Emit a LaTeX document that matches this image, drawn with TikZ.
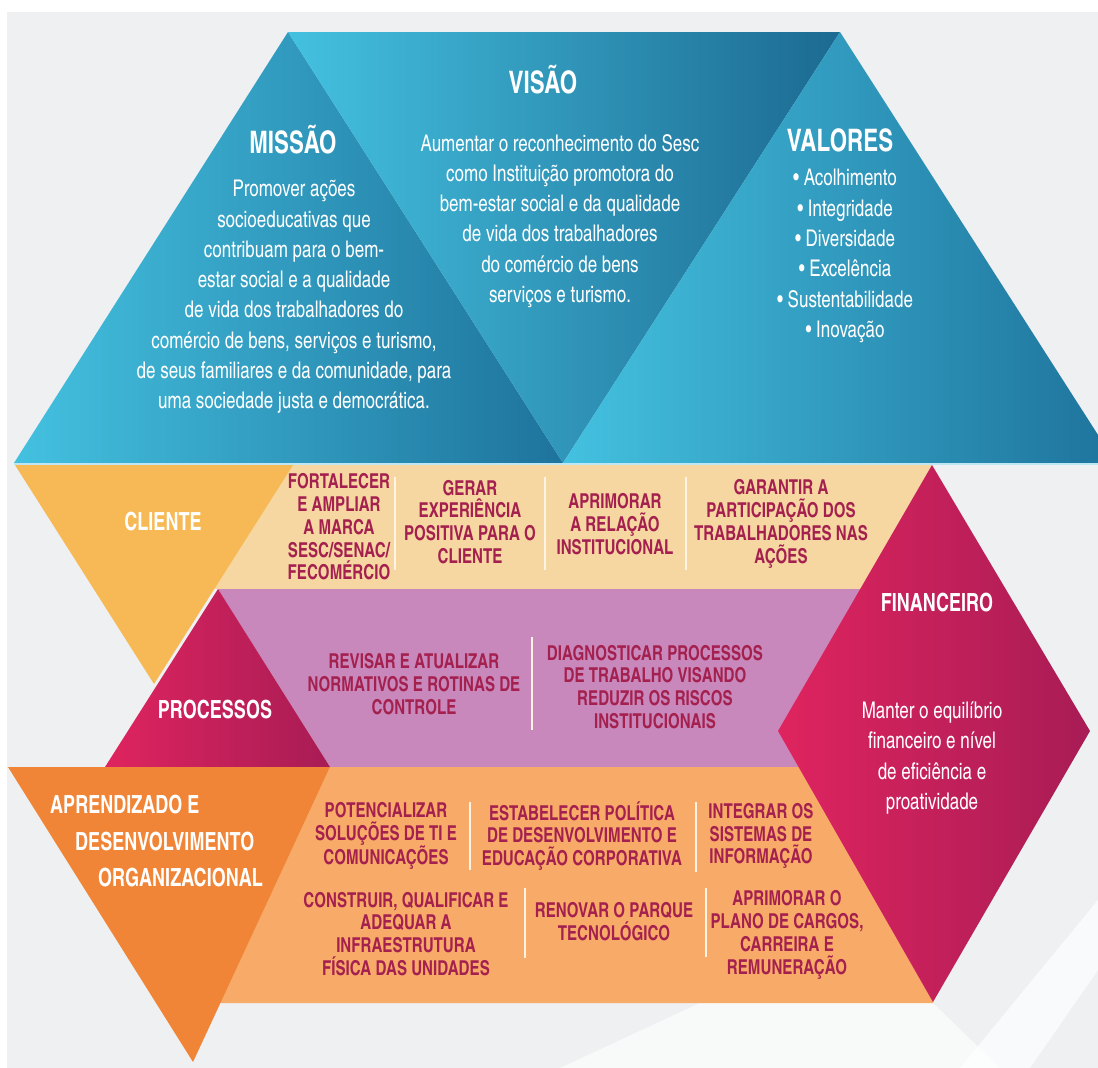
\documentclass[tikz,border=0pt]{standalone}
\usepackage{fontspec}
\usepackage{tikz}
\newfontfamily\cnfont{texgyreheroscn}[Extension=.otf, UprightFont=*-regular, BoldFont=*-bold, FakeStretch=0.9]
\newfontfamily\cntitle{texgyreheroscn}[Extension=.otf, UprightFont=*-bold, FakeStretch=0.88]
\definecolor{bggray}{HTML}{EEF0F2}
\definecolor{bluelight}{HTML}{44C1E0}
\definecolor{bluedark}{HTML}{1E739C}
\definecolor{bluedarker}{HTML}{1C6A92}
\definecolor{lightline}{HTML}{BEE7F3}
\definecolor{clienteband}{HTML}{F7D7A1}
\definecolor{clienteorange}{HTML}{F6B955}
\definecolor{processosband}{HTML}{C988BB}
\definecolor{aprendband}{HTML}{F8AB68}
\definecolor{aprendorange}{HTML}{F08537}
\definecolor{maglight}{HTML}{DF245F}
\definecolor{magdark}{HTML}{A81C55}
\definecolor{goalred}{HTML}{A4204F}
\definecolor{sepcol}{HTML}{FFF4E4}

\begin{document}
\begin{tikzpicture}[x=1pt,y=-1pt,
	bigtitle/.style={text=white,inner sep=0pt,font=\cntitle\fontsize{31}{31}\selectfont},
	bandtitle/.style={text=white,inner sep=0pt,font=\cntitle\fontsize{25}{37}\selectfont},
	bodytext/.style={text=white,inner sep=0pt,align=center,font=\cnfont\fontsize{23}{30.3}\selectfont},
	goal/.style={text=goalred,inner sep=0pt,align=center,font=\cnfont\bfseries\fontsize{20.5}{22.8}\selectfont},
	sepline/.style={draw=sepcol,line width=2pt}]

	\useasboundingbox (0,0) rectangle (1098,1068);
	\clip (0,0) rectangle (1098,1068);

	%% Background %%
	\fill [white] (0,0) rectangle (1098,1068);
	\fill [bggray] (7,12) rectangle (1098,1068);
	\fill [white,opacity=0.6] (560,1068) -- (700,1003) -- (933,1003) -- (1000,1068) -- cycle;
	\fill [white,opacity=0.7] (960,1068) -- (1098,900) -- (1098,970) -- (1030,1068) -- cycle;

	%% Blue Triangles %%
	\shade [left color=bluelight,right color=bluedark] (14,463) -- (288,32) -- (563,463) -- cycle;
	\shade [left color=bluelight,right color=bluedarker] (288,32) -- (840,32) -- (563,463) -- cycle;
	\shade [left color=bluelight,right color=bluedark] (563,463) -- (840,32) -- (1116,463) -- cycle;
	\draw [lightline,line width=2pt] (14,464) -- (1098,464);

	%% Bands %%
	\fill [clienteband] (200,465) rectangle (932,589);
	\fill [processosband] (218,589) -- (860,589) -- (860,767) -- (330,767) -- cycle;
	\fill [aprendband] (330,767) -- (933,767) -- (933,1003) -- (220,1003) -- cycle;

	%% Perspective Shapes %%
	\fill [clienteorange] (15,465) -- (293,465) -- (154,684) -- cycle;
	\shade [left color=maglight,right color=magdark] (218,589) -- (330,767) -- (105,767) -- cycle;
	\fill [aprendorange] (8,767) -- (330,767) -- (193,1062) -- cycle;
	\shade [left color=maglight,right color=magdark] (932,465) -- (1090,731) -- (933,1002) -- (778,731) -- cycle;

	%% Separators %%
	\foreach \x/\ya/\yb in {395/477/570, 545/477/570, 686/477/570, 532/637/730, 470/802/870, 696/802/872, 525/888/958, 706/888/957}
		\draw [sepline] (\x,\ya) -- (\x,\yb);

	%% Top Texts %%
	\node [bigtitle] (missao) at (293,140) {MISSÃO};
	\node [bodytext] (missaotxt) at (294,297) {Promover ações\\socioeducativas que\\contribuam para o bem-\\estar social e a qualidade\\de vida dos trabalhadores do\\comércio de bens, serviços e turismo,\\de seus familiares e da comunidade, para\\uma sociedade justa e democrática.};
	\node [bigtitle] (visao) at (543,80) {VISÃO};
	\node [bodytext] (visaotxt) at (560,221) {Aumentar o reconhecimento do Sesc\\como Instituição promotora do\\bem-estar social e da qualidade\\de vida dos trabalhadores\\do comércio de bens\\serviços e turismo.};
	\node [bigtitle] (valores) at (840,140) {VALORES};
	\node [bodytext] (valorestxt) at (845,256) {• Acolhimento\\• Integridade\\• Diversidade\\• Excelência\\• Sustentabilidade\\• Inovação};

	%% Perspective Titles %%
	\node [bandtitle] (cliente) at (163,522) {CLIENTE};
	\node [bandtitle] (processos) at (215,710) {PROCESSOS};
	\node [bandtitle] (financeiro) at (937,603) {FINANCEIRO};
	\node [bodytext] (financeirotxt) at (932,758) {Manter o equilíbrio\\financeiro e nível\\de eficiência e\\proatividade};
	\node [bandtitle,anchor=west] (aprend1) at (50,805) {APRENDIZADO E};
	\node [bandtitle,anchor=west] (aprend2) at (75,842) {DESENVOLVIMENTO};
	\node [bandtitle,anchor=west] (aprend3) at (98,878) {ORGANIZACIONAL};

	%% Goals %%
	\node [goal] (fortalecer) at (339,527) {FORTALECER\\E AMPLIAR\\A MARCA\\SESC/SENAC/\\FECOMÉRCIO};
	\node [goal] (gerar) at (470,522) {GERAR\\EXPERIÊNCIA\\POSITIVA PARA O\\CLIENTE};
	\node [goal] (relacao) at (615,524) {APRIMORAR\\A RELAÇÃO\\INSTITUCIONAL};
	\node [goal] (garantir) at (781,524) {GARANTIR A\\PARTICIPAÇÃO DOS\\TRABALHADORES NAS\\AÇÕES};
	\node [goal] (revisar) at (414,684) {REVISAR E ATUALIZAR\\NORMATIVOS E ROTINAS DE\\CONTROLE};
	\node [goal] (diagnosticar) at (655,687) {DIAGNOSTICAR PROCESSOS\\DE TRABALHO VISANDO\\REDUZIR OS RISCOS\\INSTITUCIONAIS};
	\node [goal] (potencializar) at (386,836) {POTENCIALIZAR\\SOLUÇÕES DE TI E\\COMUNICAÇÕES};
	\node [goal] (estabelecer) at (582,836) {ESTABELECER POLÍTICA\\DE DESENVOLVIMENTO E\\EDUCAÇÃO CORPORATIVA};
	\node [goal] (integrar) at (761,836) {INTEGRAR OS\\SISTEMAS DE\\INFORMAÇÃO};
	\node [goal] (construir) at (406,934) {CONSTRUIR, QUALIFICAR E\\ADEQUAR A\\INFRAESTRUTURA\\FÍSICA DAS UNIDADES};
	\node [goal] (renovar) at (614,922) {RENOVAR O PARQUE\\TECNOLÓGICO};
	\node [goal] (plano) at (787,935) {APRIMORAR O\\PLANO DE CARGOS,\\CARREIRA E\\REMUNERAÇÃO};

\end{tikzpicture}
\end{document}
